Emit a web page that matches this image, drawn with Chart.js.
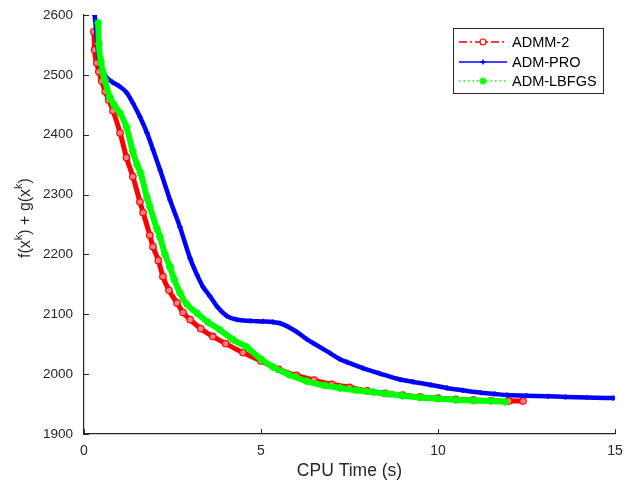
<!DOCTYPE html>
<html>
<head>
<meta charset="utf-8">
<script src="https://cdn.jsdelivr.net/npm/chart.js@4/dist/chart.umd.min.js"></script>
<style>
  html, body { margin: 0; padding: 0; background: #ffffff; }
  #wrap { width: 626px; height: 491px; position: relative; }
</style>
</head>
<body>
<div id="wrap"><canvas id="c" width="626" height="491"></canvas></div>
<script>
// ---- Data ----
const seriesNames = ["ADMM-2", "ADM-PRO", "ADM-LBFGS"];

const admm2Time = [0.28, 0.30, 0.36, 0.42, 0.50, 0.60, 0.70, 0.82, 1.02, 1.20, 1.38, 1.58, 1.67, 1.86, 1.95, 2.10, 2.23, 2.40, 2.63, 2.80, 3.00, 3.30, 3.64, 4.00, 4.49, 5.00, 5.50, 6.00, 6.50, 7.00, 7.50, 8.00, 8.50, 9.00, 9.50, 10.00, 10.50, 11.00, 11.50, 12.00, 12.40];
const admm2Value = [2572, 2542, 2520, 2505, 2490, 2472, 2458, 2440, 2403, 2362, 2330, 2288, 2270, 2232, 2213, 2190, 2163, 2140, 2119, 2103, 2091, 2076, 2063, 2051, 2036, 2022, 2008, 1998, 1990, 1983, 1978, 1972, 1968, 1965, 1962, 1960, 1958, 1957, 1956, 1955, 1955];

const admProTime = [0.30, 0.35, 0.40, 0.48, 0.57, 0.63, 0.80, 1.00, 1.21, 1.38, 1.58, 1.78, 1.95, 2.15, 2.43, 2.71, 3.00, 3.20, 3.36, 3.56, 3.76, 4.04, 4.32, 4.70, 5.06, 5.34, 5.54, 5.80, 6.00, 6.30, 6.47, 6.95, 7.23, 7.43, 7.88, 8.36, 8.93, 9.30, 9.80, 10.25, 10.70, 11.20, 11.60, 11.95, 12.50, 13.10, 13.60, 14.20, 14.95];
const admProValue = [2600, 2570, 2537, 2513, 2500, 2496, 2488, 2481, 2470, 2453, 2430, 2403, 2375, 2341, 2291, 2246, 2193, 2165, 2146, 2130, 2113, 2097, 2091, 2089, 2088, 2087, 2085, 2078, 2071, 2058, 2052, 2035, 2025, 2020, 2010, 2001, 1991, 1987, 1982, 1977, 1973, 1969, 1967, 1965, 1964, 1963, 1962, 1961, 1960];

const lbfgsTime = [0.40, 0.42, 0.48, 0.54, 0.59, 0.73, 0.85, 1.02, 1.20, 1.38, 1.50, 1.60, 1.78, 1.86, 2.06, 2.15, 2.29, 2.43, 2.55, 2.71, 2.90, 3.19, 3.50, 3.84, 4.20, 4.60, 5.00, 5.34, 5.80, 6.30, 6.80, 7.23, 7.70, 8.16, 8.60, 9.00, 9.50, 10.00, 10.50, 11.00, 11.50, 11.90];
const lbfgsValue = [2587, 2552, 2522, 2503, 2491, 2463, 2450, 2436, 2413, 2372, 2350, 2336, 2295, 2280, 2243, 2229, 2200, 2179, 2158, 2136, 2117, 2102, 2087, 2074, 2058, 2045, 2025, 2012, 1999, 1988, 1981, 1977, 1973, 1970, 1967, 1964, 1961, 1959, 1957, 1956, 1955, 1954];

const xTicks = [0, 5, 10, 15];
const yTicks = [1900, 2000, 2100, 2200, 2300, 2400, 2500, 2600];
const xTitle = "CPU Time (s)";

// ---- Build chart ----
function pts(xs, ys) { return xs.map((x, i) => ({ x: x, y: ys[i] })); }

const AX = '#262626';
const FONT = '"Liberation Sans", Arial, Helvetica, sans-serif';

const styles = [
  { color: '#ff0000', lineDash: [8, 3, 2, 3], point: 'circle', r: 3, pw: 1.2, fill: 'rgba(255,255,255,0)' },
  { color: '#0000ff', lineDash: [], point: 'cross', r: 2.5, pw: 1.5, fill: '#0000ff' },
  { color: '#00ff00', lineDash: [1.5, 3], point: 'star', r: 3.8, pw: 1.6, fill: '#00ff00' }
];

const datasets = [
  { label: seriesNames[0], data: pts(admm2Time, admm2Value), order: 2,
    borderColor: styles[0].color, borderWidth: 5, pointStyle: 'circle', pointRadius: 3.2,
    pointBorderWidth: 1.3, pointBorderColor: styles[0].color, pointBackgroundColor: 'rgba(255,255,255,0.5)' },
  { label: seriesNames[1], data: pts(admProTime, admProValue), order: 1,
    borderColor: styles[1].color, borderWidth: 4.5, pointStyle: 'cross', pointRadius: 2.6,
    pointBorderWidth: 1.6, pointBorderColor: styles[1].color, pointBackgroundColor: styles[1].color },
  { label: seriesNames[2], data: pts(lbfgsTime, lbfgsValue), order: 0,
    borderColor: styles[2].color, borderWidth: 6, pointStyle: 'star', pointRadius: 4,
    pointBorderWidth: 1.8, pointBorderColor: styles[2].color, pointBackgroundColor: styles[2].color }
];

const decoPlugin = {
  id: 'deco',
  afterDraw(chart) {
    const ctx = chart.ctx;
    const ca = chart.chartArea;
    const xs = chart.scales.x, ys = chart.scales.y;
    ctx.save();
    // inward ticks
    ctx.strokeStyle = AX; ctx.lineWidth = 1;
    ctx.beginPath();
    yTicks.forEach(v => { const p = Math.round(ys.getPixelForValue(v)) + 0.5; ctx.moveTo(ca.left, p); ctx.lineTo(ca.left + 5, p); });
    xTicks.forEach(v => { const p = Math.round(xs.getPixelForValue(v)) + 0.5; ctx.moveTo(p, ca.bottom); ctx.lineTo(p, ca.bottom - 5); });
    ctx.stroke();

    // x title
    ctx.fillStyle = AX;
    ctx.font = '17.5px ' + FONT;
    ctx.textAlign = 'center'; ctx.textBaseline = 'middle';
    ctx.fillText(xTitle, (ca.left + ca.right) / 2, 471);

    // y title with superscripts
    const parts = [['f(x', false], ['k', true], [') + g(x', false], ['k', true], [')', false]];
    const mainF = '16px ' + FONT, supF = '11px ' + FONT;
    let total = 0;
    parts.forEach(p => { ctx.font = p[1] ? supF : mainF; total += ctx.measureText(p[0]).width; });
    ctx.translate(26, 218);
    ctx.rotate(-Math.PI / 2);
    ctx.textAlign = 'left'; ctx.textBaseline = 'middle';
    let cx = -total / 2;
    parts.forEach(p => {
      ctx.font = p[1] ? supF : mainF;
      ctx.fillText(p[0], cx, p[1] ? -7.5 : 0);
      cx += ctx.measureText(p[0]).width;
    });
    ctx.restore();

    // legend
    ctx.save();
    const bx = 453.5, by = 28.5, bw = 150, bh = 65;
    ctx.fillStyle = '#ffffff';
    ctx.fillRect(bx, by, bw, bh);
    ctx.strokeStyle = AX; ctx.lineWidth = 1;
    ctx.strokeRect(bx, by, bw, bh);
    const rowsY = [42, 62, 81];
    seriesNames.forEach((name, i) => {
      const s = styles[i];
      const y = rowsY[i];
      ctx.strokeStyle = s.color; ctx.lineWidth = 1.3;
      ctx.setLineDash(s.lineDash);
      ctx.beginPath(); ctx.moveTo(459, y); ctx.lineTo(507, y); ctx.stroke();
      ctx.setLineDash([]);
      ctx.strokeStyle = s.color; ctx.fillStyle = s.fill; ctx.lineWidth = s.pw;
      ctx.beginPath();
      if (s.point === 'circle') { ctx.fillStyle = '#ffffff'; ctx.arc(483, y, s.r, 0, Math.PI * 2); ctx.fill(); ctx.stroke(); }
      else if (s.point === 'cross') { ctx.moveTo(483 - s.r, y); ctx.lineTo(483 + s.r, y); ctx.moveTo(483, y - s.r); ctx.lineTo(483, y + s.r); ctx.stroke(); ctx.beginPath(); ctx.arc(483, y, 1.5, 0, Math.PI*2); ctx.fill(); }
      else { for (let k = 0; k < 4; k++) { const a = k * Math.PI / 4; ctx.moveTo(483 - Math.cos(a) * s.r, y - Math.sin(a) * s.r); ctx.lineTo(483 + Math.cos(a) * s.r, y + Math.sin(a) * s.r); } ctx.stroke(); ctx.beginPath(); ctx.arc(483, y, 2.2, 0, Math.PI*2); ctx.fill(); }
      ctx.fillStyle = '#000000';
      ctx.font = '14.5px ' + FONT;
      ctx.textAlign = 'left'; ctx.textBaseline = 'middle';
      ctx.fillText(name, 512, y + 0.5);
    });
    ctx.restore();
  }
};

new Chart(document.getElementById('c'), {
  type: 'line',
  data: { datasets: datasets },
  options: {
    responsive: false,
    animation: false,
    devicePixelRatio: 1,
    layout: { padding: { top: 15, right: 11, left: 0, bottom: 0 } },
    plugins: { legend: { display: false }, tooltip: { enabled: false } },
    elements: { line: { cubicInterpolationMode: 'monotone', borderCapStyle: 'round', borderJoinStyle: 'round' } },
    scales: {
      x: {
        type: 'linear', min: 0, max: 15,
        afterFit(s) { s.height = 57; s.paddingLeft = 0; s.paddingRight = 0; },
        afterBuildTicks(s) { s.ticks = xTicks.map(v => ({ value: v })); },
        grid: { display: true, drawOnChartArea: false, drawTicks: false },
        border: { display: true, color: AX, width: 1.2 },
        ticks: { color: AX, font: { family: FONT, size: 14 }, padding: 9, maxRotation: 0, callback: v => String(v) }
      },
      y: {
        type: 'linear', min: 1900, max: 2600,
        afterFit(s) { s.width = 84; s.paddingTop = 0; s.paddingBottom = 0; },
        afterBuildTicks(s) { s.ticks = yTicks.map(v => ({ value: v })); },
        grid: { display: true, drawOnChartArea: false, drawTicks: false },
        border: { display: true, color: AX, width: 1.2 },
        ticks: { color: AX, font: { family: FONT, size: 13.5 }, padding: 11, callback: v => String(v) }
      }
    }
  },
  plugins: [decoPlugin]
});
</script>
</body>
</html>
